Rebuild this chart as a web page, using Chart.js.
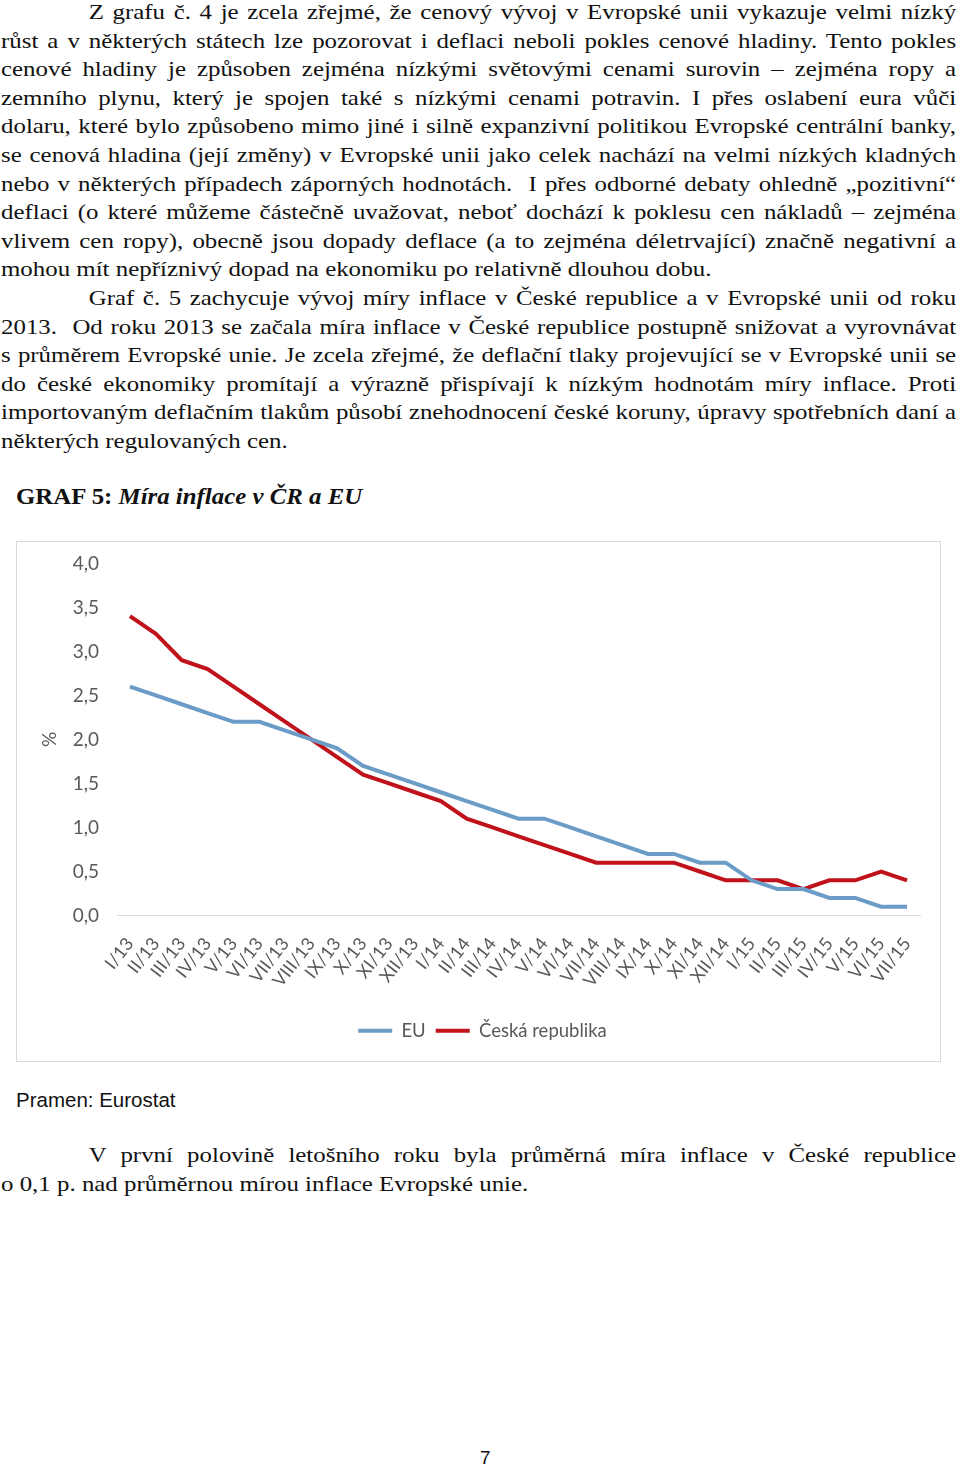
<!DOCTYPE html>
<html lang="cs">
<head>
<meta charset="utf-8">
<title>Graf 5: Míra inflace v ČR a EU</title>
<script src="https://cdn.jsdelivr.net/npm/chart.js@4.4.1/dist/chart.umd.min.js"></script>
<style>
  html, body { margin: 0; padding: 0; background: #fff; }
  body { width: 960px; height: 1466px; position: relative; overflow: hidden; color: #111; }
  /* the scanned page uses a wide Times; lay out narrow and stretch */
  .txt { position: absolute; left: 1px; width: 806px; transform: scaleX(1.185); transform-origin: 0 0;
         font-family: "Liberation Serif", "Times New Roman", serif; font-size: 21px; line-height: 28.6px; word-spacing: -2px; }
  .txt div { text-align: justify; text-align-last: justify; }
  .txt div.last { text-align-last: left; word-spacing: 0; }
  .txt div.ind { text-indent: 74px; }
  #heading { position: absolute; left: 16px; top: 482px; transform: scaleX(1.08); transform-origin: 0 0;
             font-family: "Liberation Serif", serif; font-size: 23px; font-weight: bold; line-height: 30px; }
  #box { position: absolute; left: 16px; top: 541px; width: 923px; height: 519px; border: 1px solid #d9d9d9; }
  #source { position: absolute; left: 16px; top: 1088px; font-family: "Liberation Sans", Arial, sans-serif; font-size: 20.5px; line-height: 24px; }
  #pageno { position: absolute; left: 480px; top: 1446px; font-family: "Liberation Sans", Arial, sans-serif; font-size: 19px; line-height: 24px; }
</style>
</head>
<body>
<div class="txt" style="top:-2px">
  <div class="ind">Z grafu č. 4 je zcela zřejmé, že cenový vývoj v Evropské unii vykazuje velmi nízký</div>
  <div>růst a v některých státech lze pozorovat i deflaci neboli pokles cenové hladiny. Tento pokles</div>
  <div>cenové hladiny je způsoben zejména nízkými světovými cenami surovin – zejména ropy a</div>
  <div>zemního plynu, který je spojen také s nízkými cenami potravin. I přes oslabení eura vůči</div>
  <div>dolaru, které bylo způsobeno mimo jiné i silně expanzivní politikou Evropské centrální banky,</div>
  <div>se cenová hladina (její změny) v Evropské unii jako celek nachází na velmi nízkých kladných</div>
  <div>nebo v některých případech záporných hodnotách.&nbsp; I přes odborné debaty ohledně „pozitivní“</div>
  <div>deflaci (o které můžeme částečně uvažovat, neboť dochází k poklesu cen nákladů – zejména</div>
  <div>vlivem cen ropy), obecně jsou dopady deflace (a to zejména déletrvající) značně negativní a</div>
  <div class="last">mohou mít nepříznivý dopad na ekonomiku po relativně dlouhou dobu.</div>
  <div class="ind">Graf č. 5 zachycuje vývoj míry inflace v České republice a v Evropské unii od roku</div>
  <div>2013.&nbsp; Od roku 2013 se začala míra inflace v České republice postupně snižovat a vyrovnávat</div>
  <div>s průměrem Evropské unie. Je zcela zřejmé, že deflační tlaky projevující se v Evropské unii se</div>
  <div>do české ekonomiky promítají a výrazně přispívají k nízkým hodnotám míry inflace. Proti</div>
  <div>importovaným deflačním tlakům působí znehodnocení české koruny, úpravy spotřebních daní a</div>
  <div class="last">některých regulovaných cen.</div>
</div>

<div id="heading">GRAF 5: <i>Míra inflace v ČR a EU</i></div>

<div id="box"><canvas id="chart"></canvas></div>

<div id="source">Pramen: Eurostat</div>

<div class="txt" style="top:1141px">
  <div class="ind">V první polovině letošního roku byla průměrná míra inflace v České republice</div>
  <div class="last">o 0,1 p. nad průměrnou mírou inflace Evropské unie.</div>
</div>

<div id="pageno">7</div>

<script>
const months = ['I/13', 'II/13', 'III/13', 'IV/13', 'V/13', 'VI/13', 'VII/13', 'VIII/13', 'IX/13', 'X/13', 'XI/13', 'XII/13',
                'I/14', 'II/14', 'III/14', 'IV/14', 'V/14', 'VI/14', 'VII/14', 'VIII/14', 'IX/14', 'X/14', 'XI/14', 'XII/14',
                'I/15', 'II/15', 'III/15', 'IV/15', 'V/15', 'VI/15', 'VII/15'];

const euInflation = [2.6, 2.5, 2.4, 2.3, 2.2, 2.2, 2.1, 2.0, 1.9, 1.7, 1.6, 1.5,
                     1.4, 1.3, 1.2, 1.1, 1.1, 1.0, 0.9, 0.8, 0.7, 0.7, 0.6, 0.6,
                     0.4, 0.3, 0.3, 0.2, 0.2, 0.1, 0.1];

const czInflation = [3.4, 3.2, 2.9, 2.8, 2.6, 2.4, 2.2, 2.0, 1.8, 1.6, 1.5, 1.4,
                     1.3, 1.1, 1.0, 0.9, 0.8, 0.7, 0.6, 0.6, 0.6, 0.6, 0.5, 0.4,
                     0.4, 0.4, 0.3, 0.4, 0.4, 0.5, 0.4];

const grey = '#595959';
const font = 'Lato, "Noto Sans", sans-serif';

const canvas = document.getElementById('chart');
canvas.style.width = '923px';
canvas.style.height = '519px';

new Chart(canvas.getContext('2d'), {
    type: 'line',
    data: {
        labels: months,
        datasets: [
            {
                label: 'EU',
                data: euInflation,
                borderColor: '#6b9bc7',
                backgroundColor: '#6b9bc7',
                borderWidth: 4,
                pointRadius: 0,
                tension: 0,
            },
            {
                label: 'Česká republika',
                data: czInflation,
                borderColor: '#c0121a',
                backgroundColor: '#c0121a',
                borderWidth: 4,
                pointRadius: 0,
                tension: 0,
            },
        ],
    },
    options: {
        responsive: false,
        animation: false,
        // left padding keeps the legend centred where the original has it
        layout: { padding: { left: 28, top: 13, right: 20, bottom: 11 } },
        plugins: {
            tooltip: { enabled: false },
            legend: {
                position: 'bottom',
                labels: {
                    color: grey,
                    font: { family: font, size: 18.5 },
                    usePointStyle: true,
                    pointStyleWidth: 34,
                    pointStyle: 'line',
                    padding: 10,
                },
            },
        },
        scales: {
            x: {
                offset: true,
                grid: { display: false },
                border: { display: true, color: '#d9d9d9', width: 1 },
                ticks: {
                    color: grey,
                    font: { family: font, size: 18 },
                    autoSkip: false,
                    minRotation: 52,
                    maxRotation: 52,
                    padding: 10,
                },
                afterFit: (axis) => { axis.height = 96; },
            },
            y: {
                min: 0,
                max: 4,
                grid: { display: false },
                border: { display: false },
                ticks: {
                    stepSize: 0.5,
                    color: grey,
                    font: { family: font, size: 19 },
                    padding: 10,
                    callback: (v) => v.toFixed(1).replace('.', ','),
                },
                title: {
                    display: true,
                    text: '%',
                    color: grey,
                    font: { family: font, size: 19, lineHeight: 0.5 },
                    padding: { top: 0, bottom: 0 },
                },
                afterFit: (axis) => { axis.width = 72; },
            },
        },
    },
});
</script>
</body>
</html>
